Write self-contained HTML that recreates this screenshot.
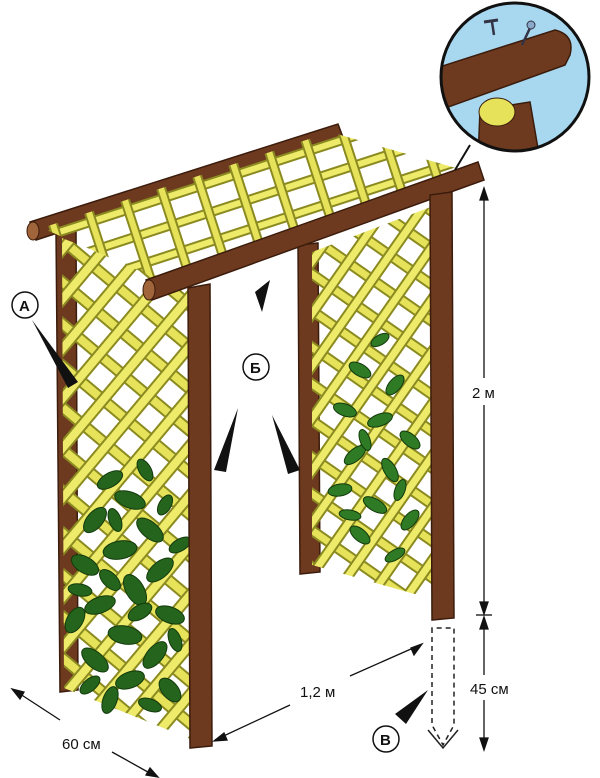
<!DOCTYPE html>
<html><head><meta charset="utf-8"><style>
html,body{margin:0;padding:0;background:#fff;}
svg{display:block;}
text{font-family:"Liberation Sans",sans-serif;fill:#111;}
</style></head><body>
<svg width="600" height="778" viewBox="0 0 600 778" xmlns="http://www.w3.org/2000/svg">
<defs>
<pattern id="lat" width="32" height="32" patternUnits="userSpaceOnUse" patternTransform="rotate(40)">
<rect x="0" y="10" width="32" height="12" fill="#8a8a20"/><rect x="0" y="12" width="32" height="8" fill="#e6e35a"/>
<rect x="10" y="0" width="12" height="32" fill="#8a8a20"/><rect x="12" y="0" width="8" height="32" fill="#eeea6a"/>
</pattern>
<pattern id="lat2" width="30" height="30" patternUnits="userSpaceOnUse" patternTransform="rotate(35)">
<rect x="0" y="10" width="30" height="11" fill="#8a8a20"/><rect x="0" y="12" width="30" height="7" fill="#e6e35a"/>
<rect x="10" y="0" width="11" height="30" fill="#8a8a20"/><rect x="12" y="0" width="7" height="30" fill="#eeea6a"/>
</pattern>
<pattern id="lat3" width="38" height="28" patternUnits="userSpaceOnUse" patternTransform="rotate(-18)">
<rect x="0" y="10" width="38" height="10" fill="#8a8a20"/><rect x="0" y="12" width="38" height="6" fill="#eeea6a"/>
<rect x="14" y="0" width="10" height="28" fill="#8a8a20"/><rect x="16" y="0" width="6" height="28" fill="#e6e35a"/>
</pattern>
<clipPath id="ci"><circle cx="515" cy="77" r="74"/></clipPath>
</defs>

<path d="M56 230 L76 228 L78 690 L60 692 Z" fill="#6e3a1f" stroke="#3b1c0c" stroke-width="1.5"/>
<path d="M298 245 L318 243 L320 572 L300 574 Z" fill="#6e3a1f" stroke="#3b1c0c" stroke-width="1.5"/>

<polygon points="62,238 198,292 198,742 64,688" fill="url(#lat)"/>
<polygon points="312,252 436,205 436,600 312,565" fill="url(#lat2)"/>

<g fill="#25641c" stroke="#123a0c" stroke-width="1">
<ellipse cx="110" cy="480" rx="14" ry="7" transform="rotate(-30 110 480)"/>
<ellipse cx="130" cy="500" rx="16" ry="8" transform="rotate(20 130 500)"/>
<ellipse cx="95" cy="520" rx="15" ry="8" transform="rotate(-50 95 520)"/>
<ellipse cx="150" cy="530" rx="16" ry="8" transform="rotate(40 150 530)"/>
<ellipse cx="120" cy="550" rx="17" ry="9" transform="rotate(-10 120 550)"/>
<ellipse cx="85" cy="565" rx="15" ry="8" transform="rotate(30 85 565)"/>
<ellipse cx="160" cy="570" rx="16" ry="8" transform="rotate(-40 160 570)"/>
<ellipse cx="135" cy="590" rx="17" ry="9" transform="rotate(60 135 590)"/>
<ellipse cx="100" cy="605" rx="16" ry="8" transform="rotate(-20 100 605)"/>
<ellipse cx="170" cy="615" rx="15" ry="8" transform="rotate(20 170 615)"/>
<ellipse cx="75" cy="620" rx="14" ry="8" transform="rotate(-60 75 620)"/>
<ellipse cx="125" cy="635" rx="17" ry="9" transform="rotate(10 125 635)"/>
<ellipse cx="155" cy="655" rx="16" ry="8" transform="rotate(-50 155 655)"/>
<ellipse cx="95" cy="660" rx="16" ry="8" transform="rotate(40 95 660)"/>
<ellipse cx="130" cy="680" rx="15" ry="8" transform="rotate(-20 130 680)"/>
<ellipse cx="170" cy="690" rx="14" ry="8" transform="rotate(50 170 690)"/>
<ellipse cx="110" cy="700" rx="14" ry="7" transform="rotate(-70 110 700)"/>
<ellipse cx="145" cy="470" rx="12" ry="6" transform="rotate(60 145 470)"/>
<ellipse cx="180" cy="545" rx="12" ry="6" transform="rotate(-30 180 545)"/>
<ellipse cx="175" cy="640" rx="12" ry="6" transform="rotate(70 175 640)"/>
<ellipse cx="80" cy="590" rx="12" ry="6" transform="rotate(10 80 590)"/>
<ellipse cx="140" cy="612" rx="13" ry="7" transform="rotate(-30 140 612)"/>
<ellipse cx="110" cy="580" rx="13" ry="7" transform="rotate(45 110 580)"/>
<ellipse cx="150" cy="705" rx="12" ry="6" transform="rotate(20 150 705)"/>
<ellipse cx="90" cy="685" rx="12" ry="6" transform="rotate(-40 90 685)"/>
<ellipse cx="165" cy="505" rx="11" ry="6" transform="rotate(-60 165 505)"/>
<ellipse cx="115" cy="520" rx="12" ry="6" transform="rotate(70 115 520)"/>
</g>
<g fill="#2f7a24" stroke="#123a0c" stroke-width="1">
<ellipse cx="380" cy="340" rx="10" ry="5" transform="rotate(-30 380 340)"/>
<ellipse cx="360" cy="370" rx="12" ry="6" transform="rotate(30 360 370)"/>
<ellipse cx="395" cy="385" rx="12" ry="6" transform="rotate(-50 395 385)"/>
<ellipse cx="345" cy="410" rx="12" ry="6" transform="rotate(20 345 410)"/>
<ellipse cx="380" cy="420" rx="13" ry="6" transform="rotate(-20 380 420)"/>
<ellipse cx="410" cy="440" rx="12" ry="6" transform="rotate(40 410 440)"/>
<ellipse cx="355" cy="455" rx="13" ry="6" transform="rotate(-40 355 455)"/>
<ellipse cx="390" cy="470" rx="13" ry="6" transform="rotate(60 390 470)"/>
<ellipse cx="340" cy="490" rx="12" ry="6" transform="rotate(-10 340 490)"/>
<ellipse cx="375" cy="505" rx="13" ry="6" transform="rotate(30 375 505)"/>
<ellipse cx="410" cy="520" rx="12" ry="6" transform="rotate(-50 410 520)"/>
<ellipse cx="360" cy="535" rx="12" ry="6" transform="rotate(40 360 535)"/>
<ellipse cx="395" cy="555" rx="11" ry="5" transform="rotate(-30 395 555)"/>
<ellipse cx="365" cy="440" rx="11" ry="5" transform="rotate(70 365 440)"/>
<ellipse cx="400" cy="490" rx="11" ry="5" transform="rotate(-70 400 490)"/>
<ellipse cx="350" cy="515" rx="11" ry="5" transform="rotate(10 350 515)"/>
</g>

<path d="M30 222 L338 124 L344 140 L36 240 Z" fill="#6e3a1f" stroke="#3b1c0c" stroke-width="1.5"/>
<ellipse cx="33" cy="231" rx="6" ry="9" fill="#a0653a" stroke="#3b1c0c"/>
<polygon points="42,228 330,132 470,172 165,282" fill="url(#lat3)"/>
<path d="M146 280 L478 162 L484 180 L152 300 Z" fill="#6e3a1f" stroke="#3b1c0c" stroke-width="1.5"/>
<ellipse cx="149" cy="290" rx="6" ry="10" fill="#a0653a" stroke="#3b1c0c"/>

<path d="M188 288 L210 284 L212 746 L190 748 Z" fill="#6e3a1f" stroke="#3b1c0c" stroke-width="1.5"/>
<path d="M430 195 L452 192 L454 618 L432 620 Z" fill="#6e3a1f" stroke="#3b1c0c" stroke-width="1.5"/>
<path d="M432 628 L432 725 L443 745 L454 725 L454 628 Z" fill="none" stroke="#222" stroke-width="1.5" stroke-dasharray="5,4"/>
<path d="M428 730 L443 748 L458 730" fill="none" stroke="#222" stroke-width="1.5"/>

<g stroke="#111" stroke-width="1.3" fill="#111">
<line x1="484" y1="190" x2="484" y2="378"/><line x1="484" y1="405" x2="484" y2="612"/>
<polygon points="484,188 480,200 488,200"/><polygon points="484,614 480,602 488,602"/>
<line x1="476" y1="615" x2="492" y2="615"/>
<line x1="484" y1="618" x2="484" y2="675"/><line x1="484" y1="700" x2="484" y2="748"/>
<polygon points="484,617 480,629 488,629"/><polygon points="484,750 480,738 488,738"/>
<line x1="215" y1="740" x2="290" y2="705"/><line x1="350" y1="676" x2="420" y2="645"/>
<polygon points="214,741 224,733 227,740"/><polygon points="422,644 411,648 414,655"/>
<line x1="14" y1="690" x2="60" y2="720"/><line x1="112" y1="752" x2="155" y2="776"/>
<polygon points="12,689 24,692 20,699"/><polygon points="158,777 146,775 150,768"/>
</g>
<text x="472" y="398" font-size="15">2 м</text>
<text x="470" y="694" font-size="15">45 см</text>
<text x="300" y="697" font-size="15">1,2 м</text>
<text x="62" y="749" font-size="15">60 см</text>

<g fill="#111">
<polygon points="32,320 68,388 78,382"/>
<polygon points="255,292 270,280 262,312"/>
<polygon points="238,408 214,470 226,472"/>
<polygon points="272,415 300,470 288,474"/>
<polygon points="395,714 428,690 406,724"/>
</g>
<g fill="#fff" stroke="#111" stroke-width="1.5">
<circle cx="25" cy="305" r="13"/><circle cx="256" cy="367" r="13"/><circle cx="386" cy="739" r="13"/>
</g>
<text x="19" y="311" font-size="15" font-weight="bold">А</text>
<text x="250" y="373" font-size="15" font-weight="bold">Б</text>
<text x="380" y="745" font-size="15" font-weight="bold">В</text>

<line x1="470" y1="145" x2="455" y2="170" stroke="#111" stroke-width="2"/>
<circle cx="515" cy="77" r="74" fill="#a8d8f0"/>
<g clip-path="url(#ci)">
<path d="M430 70 L555 30 Q575 35 570 55 L565 65 L440 110 Z" fill="#6e3a1f" stroke="#3b1c0c" stroke-width="1.5"/>
<path d="M480 110 L530 102 L540 160 L478 160 Z" fill="#6e3a1f" stroke="#3b1c0c" stroke-width="1.5"/>
<ellipse cx="497" cy="112" rx="18" ry="14" fill="#e6e35a" stroke="#3b1c0c"/>
<line x1="492" y1="22" x2="494" y2="35" stroke="#334" stroke-width="2.5"/>
<line x1="484" y1="22" x2="498" y2="20" stroke="#334" stroke-width="3"/>
<line x1="530" y1="28" x2="522" y2="45" stroke="#334" stroke-width="2.5"/>
<circle cx="531" cy="25" r="4" fill="#8aa8c8" stroke="#334"/>
</g>
<circle cx="515" cy="77" r="74" fill="none" stroke="#111" stroke-width="3"/>
</svg>
</body></html>
